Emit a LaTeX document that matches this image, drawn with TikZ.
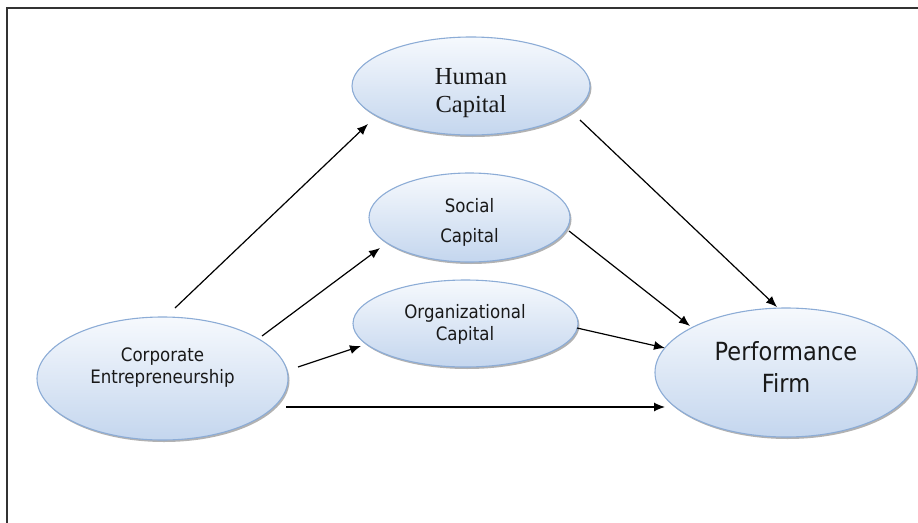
\documentclass[tikz,border=0pt]{standalone}
\usepackage{fontspec}
\usetikzlibrary{shapes.geometric,shadows,arrows.meta}
\setmainfont{Liberation Serif}
\newfontfamily\tah[FakeStretch=0.9]{DejaVu Sans}
\definecolor{elltop}{RGB}{246,249,253}
\definecolor{ellbot}{RGB}{196,214,238}
\definecolor{ellline}{RGB}{140,172,214}
\tikzset{
  ell/.style={ellipse, draw=ellline, line width=1.1pt, top color=elltop, bottom color=ellbot, inner sep=0pt,
    drop shadow={shadow xshift=1.5pt, shadow yshift=-2pt, opacity=0.3, fill=black}},
  txt/.style={align=center, inner sep=0pt, text=black!90},
  arr/.style={line width=1.2pt, -{Latex[length=11pt,width=9pt]}},
}
\begin{document}
\begin{tikzpicture}[x=1pt,y=-1pt]
\useasboundingbox (0,0) rectangle (918,522);
\draw[line width=1.3pt, black!80] (7,540) -- (7,8) -- (940,8);
% ellipses
\node[ell, minimum width=238pt, minimum height=98pt] (hc) at (471,86) {};
\node[ell, minimum width=201pt, minimum height=89pt] (sc) at (469.5,217.5) {};
\node[ell, minimum width=225pt, minimum height=87pt] (oc) at (465.5,323.5) {};
\node[ell, minimum width=251pt, minimum height=123pt] (ce) at (162.5,378.5) {};
\node[ell, minimum width=262pt, minimum height=129pt] (pf) at (786,372.5) {};
% texts
\node[txt, font=\fontsize{24.5}{28}\selectfont] (hct) at (471,93.5) {Human\\Capital};
\node[txt, font=\tah\fontsize{18.5}{30}\selectfont] (sct) at (469.5,222) {Social\\Capital};
\node[txt, font=\tah\fontsize{18.5}{22}\selectfont] (oct) at (465,324.5) {Organizational\\Capital};
\node[txt, font=\tah\fontsize{18.5}{22}\selectfont] (cet) at (162.5,368) {Corporate\\Entrepreneurship};
\node[txt, font=\tah\fontsize{25}{32}\selectfont] (pft) at (786,366.5) {Performance\\Firm};
% connector endpoints
\coordinate (a1s) at (175,308); \coordinate (a1e) at (368,124);
\coordinate (a2s) at (262,336); \coordinate (a2e) at (380,248);
\coordinate (a3s) at (298,367); \coordinate (a3e) at (361,346);
\coordinate (a4s) at (286,407); \coordinate (a4e) at (665,407);
\coordinate (a5s) at (580,120); \coordinate (a5e) at (777,307);
\coordinate (a6s) at (569,231); \coordinate (a6e) at (690,326);
\coordinate (a7s) at (577,328); \coordinate (a7e) at (665,348);
\draw[arr] (a1s) -- (a1e);
\draw[arr] (a2s) -- (a2e);
\draw[arr] (a3s) -- (a3e);
\draw[arr] (a4s) -- (a4e);
\draw[arr] (a5s) -- (a5e);
\draw[arr] (a6s) -- (a6e);
\draw[arr] (a7s) -- (a7e);
\end{tikzpicture}
\end{document}
